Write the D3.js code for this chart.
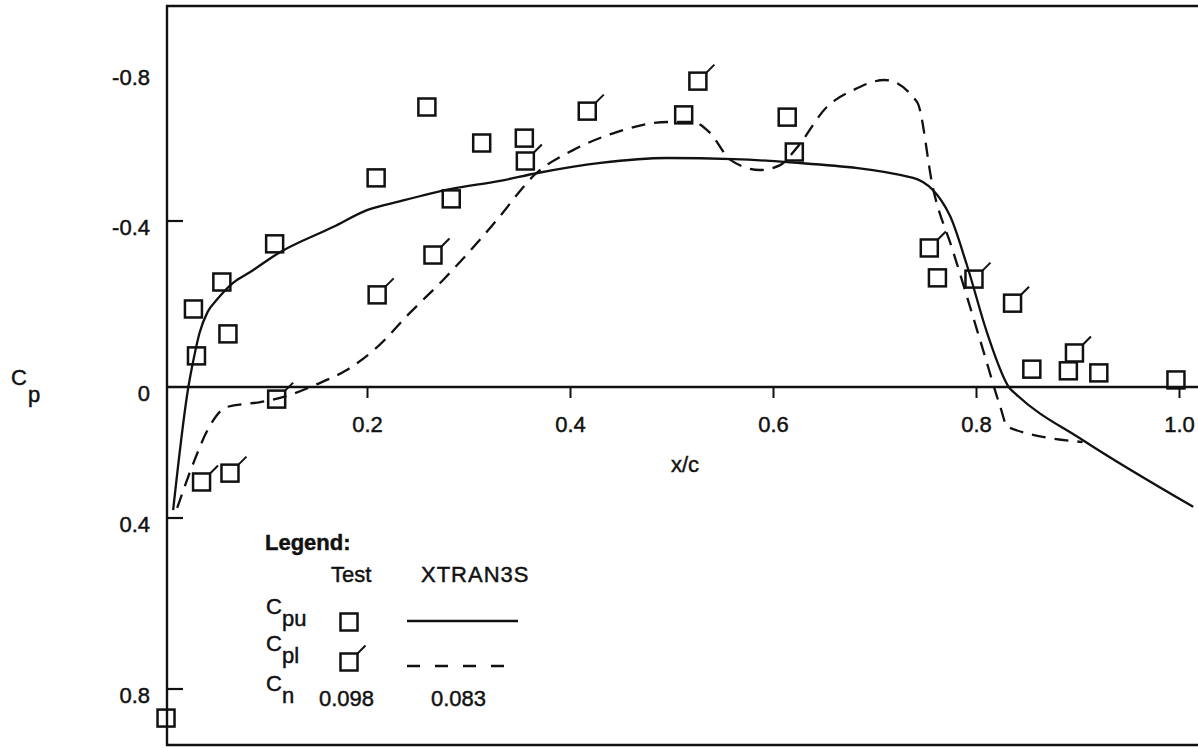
<!DOCTYPE html>
<html>
<head>
<meta charset="utf-8">
<script src="https://cdn.jsdelivr.net/npm/d3@7"></script>
<style>
  body { margin: 0; background: #fff; }
  svg { display: block; }
  text { font-family: "Liberation Sans", Arial, sans-serif; font-size: 22px; fill: #111; stroke: #111; stroke-width: 0.45px; }
</style>
</head>
<body>
<svg width="1198" height="748"></svg>
<script>
// test data, upper surface (plain squares): [x/c, Cp]
const testUpper = [
  [0.002, 0.868], [0.029, -0.188], [0.032, -0.075], [0.057, -0.253], [0.063, -0.128],
  [0.109, -0.345], [0.209, -0.515], [0.259, -0.704], [0.283, -0.459], [0.313, -0.608],
  [0.355, -0.621], [0.512, -0.683], [0.614, -0.677], [0.621, -0.584], [0.762, -0.263],
  [0.855, -0.043], [0.891, -0.039], [0.921, -0.034], [0.997, -0.017]
];
// test data, lower surface (squares with flag)
const testLower = [
  [0.037, 0.290], [0.065, 0.263], [0.111, 0.037], [0.210, -0.222], [0.265, -0.318],
  [0.356, -0.560], [0.417, -0.693], [0.526, -0.773], [0.754, -0.335], [0.798, -0.260],
  [0.836, -0.202], [0.897, -0.082]
];
// XTRAN3S upper surface (solid)
const xtranUpper = [
  [0.009, 0.376], [0.024, 0.000], [0.029, -0.065], [0.035, -0.130], [0.043, -0.181],
  [0.052, -0.210], [0.068, -0.251], [0.085, -0.277], [0.111, -0.320], [0.167, -0.386],
  [0.200, -0.429], [0.233, -0.453], [0.282, -0.485], [0.331, -0.507], [0.368, -0.528],
  [0.430, -0.555], [0.496, -0.568], [0.561, -0.565], [0.614, -0.557], [0.738, -0.515],
  [0.774, -0.416], [0.791, -0.294], [0.811, -0.130], [0.833, 0.003], [0.840, 0.024],
  [0.905, 0.162], [1.014, 0.366]
];
// XTRAN3S lower surface (dashed)
const xtranLower = [
  [0.013, 0.369], [0.029, 0.232], [0.043, 0.131], [0.062, 0.061], [0.095, 0.046],
  [0.117, 0.031], [0.151, -0.007], [0.180, -0.041], [0.210, -0.096], [0.242, -0.178],
  [0.275, -0.258], [0.311, -0.354], [0.328, -0.403], [0.367, -0.528], [0.403, -0.589],
  [0.446, -0.637], [0.496, -0.664], [0.521, -0.664], [0.538, -0.635], [0.558, -0.563],
  [0.587, -0.536], [0.607, -0.549], [0.624, -0.597], [0.653, -0.704], [0.679, -0.749],
  [0.710, -0.776], [0.742, -0.717], [0.758, -0.483], [0.777, -0.330], [0.807, -0.089],
  [0.824, 0.061], [0.831, 0.122], [0.905, 0.168]
];
const xTicks = [0.2, 0.4, 0.6, 0.8, 1.0];
const yTicks = [-0.8, -0.4, 0, 0.4, 0.8];
const yTickMarks = [-0.4, 0.4, 0.8];
const cnTest = '0.098';
const cnXtran = '0.083';

var svg = d3.select('svg');

// frame edges in pixels
var frameLeft = 167, frameTop = 6, frameBottom = 745;
var x = d3.scaleLinear().domain([0, 1]).range([164, 1179]);
// the printed Cp axis is not evenly spaced, so follow its tick marks piecewise
var y = d3.scaleLinear().domain(yTicks).range([71, 221, 387, 518, 689]);

var ink = '#111';

// frame
svg.append('path')
  .attr('d', 'M1200,' + frameTop + 'H' + frameLeft + 'V' + frameBottom + 'H1200')
  .attr('fill', 'none')
  .attr('stroke', ink)
  .attr('stroke-width', 2.4);

// y axis labels + inward ticks
var yAxis = svg.append('g').attr('transform', 'translate(' + frameLeft + ',0)');
yAxis.selectAll('text')
  .data(yTicks)
  .enter()
  .append('text')
  .attr('x', -17)
  .attr('y', function (d) { return y(d) + 14; })
  .attr('text-anchor', 'end')
  .text(function (d) { return d === 0 ? '0' : d.toFixed(1); });
yAxis.selectAll('line')
  .data(yTickMarks)
  .enter()
  .append('line')
  .attr('x1', 0)
  .attr('x2', 16)
  .attr('y1', function (d) { return y(d); })
  .attr('y2', function (d) { return y(d); })
  .attr('stroke', ink)
  .attr('stroke-width', 2.2);

// x axis along Cp = 0
var xAxis = svg.append('g')
  .attr('transform', 'translate(0,' + y(0) + ')')
  .call(d3.axisBottom(x).tickValues(xTicks).tickSizeInner(11).tickSizeOuter(0)
    .tickPadding(18).tickFormat(d3.format('.1f')));
xAxis.select('.domain').attr('d', 'M' + frameLeft + ',0H1200').attr('stroke', ink).attr('stroke-width', 2.4);
xAxis.selectAll('.tick line').attr('stroke', ink).attr('stroke-width', 2);
xAxis.selectAll('.tick text')
  .attr('font-size', 22)
  .attr('font-family', '"Liberation Sans", Arial, sans-serif')
  .attr('fill', ink);

// axis titles
svg.append('text')
  .attr('x', 685)
  .attr('y', 472)
  .attr('text-anchor', 'middle')
  .text('x/c');
var cpLabel = svg.append('text').attr('x', 11).attr('y', 385);
cpLabel.append('tspan').text('C');
cpLabel.append('tspan').attr('dy', 17).attr('dx', 1).text('p');

// curves
var line = d3.line()
  .curve(d3.curveMonotoneX)
  .x(function (d) { return x(d[0]); })
  .y(function (d) { return y(d[1]); });

svg.append('path')
  .datum(xtranUpper)
  .attr('d', line)
  .attr('fill', 'none')
  .attr('stroke', ink)
  .attr('stroke-width', 2.3);

svg.append('path')
  .datum(xtranLower)
  .attr('d', line)
  .attr('fill', 'none')
  .attr('stroke', ink)
  .attr('stroke-width', 2.3)
  .attr('stroke-dasharray', '14,9');

// square symbols, with a flag for the lower surface
var size = 17;
function square(g, cx, cy, flag) {
  g.append('rect')
    .attr('x', cx - size / 2)
    .attr('y', cy - size / 2)
    .attr('width', size)
    .attr('height', size)
    .attr('fill', 'none')
    .attr('stroke', ink)
    .attr('stroke-width', 2.5);
  if (flag) {
    g.append('line')
      .attr('x1', cx + size / 2)
      .attr('y1', cy - size / 2)
      .attr('x2', cx + size / 2 + 8)
      .attr('y2', cy - size / 2 - 8)
      .attr('stroke', ink)
      .attr('stroke-width', 2);
  }
}

var pts = svg.append('g');
testUpper.forEach(function (d) { square(pts, x(d[0]), y(d[1]), false); });
testLower.forEach(function (d) { square(pts, x(d[0]), y(d[1]), true); });

// legend
var lg = svg.append('g');
lg.append('text').attr('x', 265).attr('y', 550).attr('font-weight', 'bold').text('Legend:');
lg.append('text').attr('x', 331).attr('y', 582).text('Test');
lg.append('text').attr('x', 421).attr('y', 582).attr('letter-spacing', 1).text('XTRAN3S');

function cLabel(yb, sub) {
  var t = lg.append('text').attr('x', 266).attr('y', yb);
  t.append('tspan').text('C');
  t.append('tspan').attr('dy', 12).text(sub);
}
cLabel(614, 'pu');
cLabel(651, 'pl');
cLabel(691, 'n');

square(lg, 349, 622, false);
square(lg, 349, 662, true);
lg.append('line').attr('x1', 407).attr('x2', 518).attr('y1', 621).attr('y2', 621)
  .attr('stroke', ink).attr('stroke-width', 2.3);
lg.append('line').attr('x1', 407).attr('x2', 516).attr('y1', 666).attr('y2', 666)
  .attr('stroke', ink).attr('stroke-width', 2.3).attr('stroke-dasharray', '13,15');
lg.append('text').attr('x', 319).attr('y', 706).text(cnTest);
lg.append('text').attr('x', 431).attr('y', 706).text(cnXtran);
</script>
</body>
</html>
